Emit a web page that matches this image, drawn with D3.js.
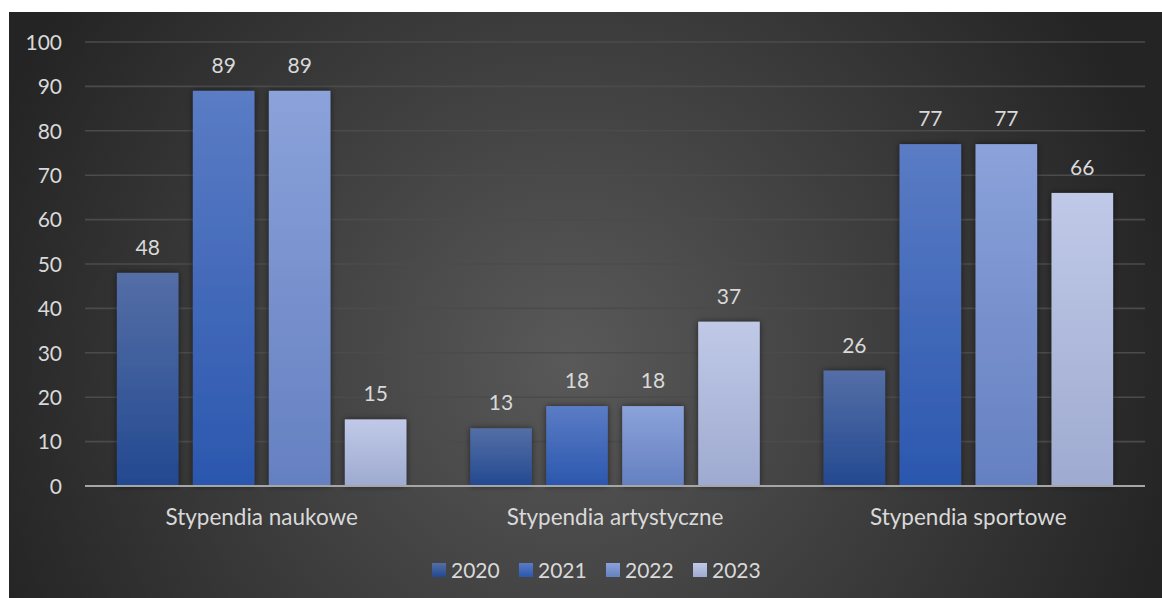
<!DOCTYPE html>
<html><head><meta charset="utf-8">
<script src="https://cdn.jsdelivr.net/npm/d3@7"></script>
<style>
html,body{margin:0;padding:0;background:#fff;}
svg{display:block;}
text{font-family:Lato,"Open Sans",sans-serif;fill:#d9d9d9;}
</style></head>
<body>
<svg id="chart" width="1162" height="598"></svg>
<script>
const categories = ["Stypendia naukowe", "Stypendia artystyczne", "Stypendia sportowe"];
const years = ["2020", "2021", "2022", "2023"];
const values2020 = [48, 13, 26];
const values2021 = [89, 18, 77];
const values2022 = [89, 18, 77];
const values2023 = [15, 37, 66];
const yTicks = [0, 10, 20, 30, 40, 50, 60, 70, 80, 90, 100];
const seriesValues = [values2020, values2021, values2022, values2023];
const gradTop = ["#546ea6", "#5b7cc5", "#8ba2da", "#c0c9e7"];
const gradBot = ["#234990", "#2b57ae", "#6580c1", "#9eaad0"];
const FS = 21;

const svg = d3.select("#chart");
const defs = svg.append("defs");
const bg = defs.append("radialGradient").attr("id","bg")
  .attr("gradientUnits","userSpaceOnUse").attr("cx",570).attr("cy",360).attr("r",620);
bg.append("stop").attr("offset","0").attr("stop-color","#595959");
bg.append("stop").attr("offset","1").attr("stop-color","#242424");
years.forEach((y,i)=>{
  const g = defs.append("linearGradient").attr("id","g"+i).attr("x1",0).attr("y1",0).attr("x2",0).attr("y2",1);
  g.append("stop").attr("offset","0").attr("stop-color",gradTop[i]);
  g.append("stop").attr("offset","1").attr("stop-color",gradBot[i]);
});
const f = defs.append("filter").attr("id","sh").attr("x","-20%").attr("y","-20%").attr("width","140%").attr("height","140%");
f.append("feDropShadow").attr("dx",0).attr("dy",0).attr("stdDeviation",3).attr("flood-color","#000").attr("flood-opacity",0.55);

svg.append("rect").attr("x",9).attr("y",12).attr("width",1153).attr("height",586).attr("fill","url(#bg)");

const x0 = d3.scaleBand().domain(categories).range([85,1145]).paddingInner(0).paddingOuter(0);
const x1 = d3.scaleBand().domain(years).range([0,x0.bandwidth()]).paddingInner(0.19).paddingOuter(0.42);
const y = d3.scaleLinear().domain([0,100]).range([486,42]);

// gridlines
svg.append("g").selectAll("line").data(yTicks.filter(t=>t>0)).join("line")
  .attr("x1",85).attr("x2",1145).attr("y1",d=>y(d)).attr("y2",d=>y(d))
  .attr("stroke","#4b4b4b").attr("stroke-width",1.6);

// y axis labels
const yAxis = d3.axisLeft(y).tickValues(yTicks).tickSize(0).tickPadding(0);
const ya = svg.append("g").attr("transform","translate(62,0)").call(yAxis);
ya.select(".domain").remove();
ya.selectAll("text").attr("font-size",FS).attr("fill","#d9d9d9").attr("font-family","Lato,sans-serif").attr("dy","0.35em");

// bars
const groups = svg.append("g").selectAll("g").data(categories).join("g")
  .attr("transform",d=>`translate(${x0(d)},0)`);
groups.each(function(cat,ci){
  const g = d3.select(this);
  years.forEach((yr,si)=>{
    const v = seriesValues[si][ci];
    g.append("rect").attr("x",x1(yr)).attr("width",x1.bandwidth())
      .attr("y",y(v)).attr("height",y(0)-y(v))
      .attr("fill",`url(#g${si})`).attr("filter","url(#sh)");
    g.append("text").attr("x",x1(yr)+x1.bandwidth()/2).attr("y",y(v)-18)
      .attr("text-anchor","middle").attr("font-size",FS).text(v);
  });
});

// x axis line
svg.append("line").attr("x1",85).attr("x2",1145).attr("y1",y(0)).attr("y2",y(0))
  .attr("stroke","#a6a6a6").attr("stroke-width",2.2);

// category labels
const xAxis = d3.axisBottom(x0).tickSize(0).tickPadding(0);
const xa = svg.append("g").attr("transform","translate(0,525)").call(xAxis);
xa.select(".domain").remove();
xa.selectAll("text").attr("font-size",22.5).attr("fill","#d9d9d9").attr("font-family","Lato,sans-serif").attr("dy",0);

// legend
const legX = [432, 519, 606, 693];
const leg = svg.append("g").selectAll("g").data(years).join("g")
  .attr("transform",(d,i)=>`translate(${legX[i]},563)`);
leg.append("rect").attr("width",14).attr("height",14).attr("fill",(d,i)=>`url(#g${i})`);
leg.append("text").attr("x",19).attr("y",15).attr("font-size",FS).text(d=>d);
</script>
</body></html>
